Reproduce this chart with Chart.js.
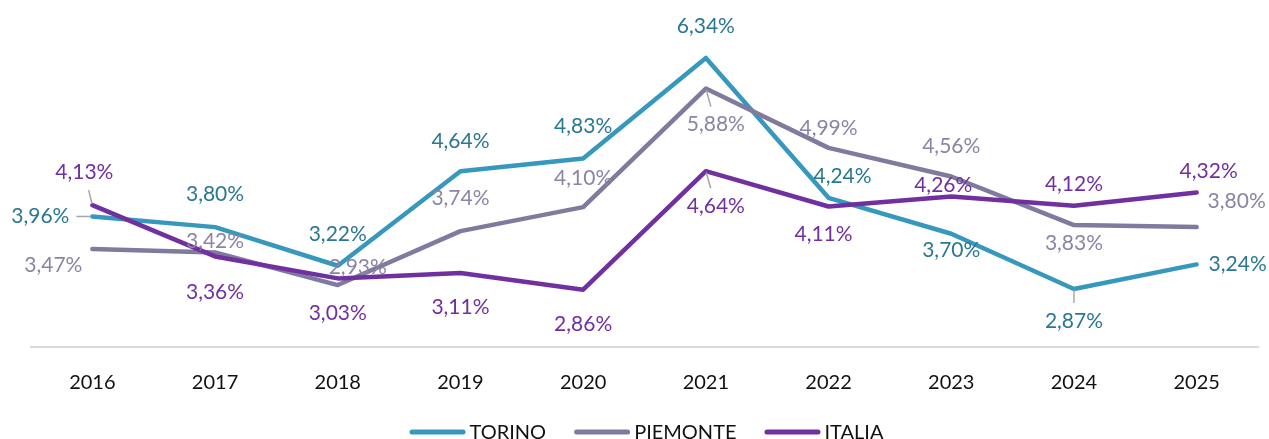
<!DOCTYPE html>
<html lang="it">
<head>
<meta charset="UTF-8">
<title>Torino Piemonte Italia</title>
<style>
  html, body { margin: 0; padding: 0; background: #fff; }
  #wrap { width: 1269px; height: 439px; }
</style>
</head>
<body>
<div id="wrap"><canvas id="chart" width="1269" height="439"></canvas></div>
<script src="https://cdn.jsdelivr.net/npm/chart.js"></script>
<script>
const years = ['2016', '2017', '2018', '2019', '2020', '2021', '2022', '2023', '2024', '2025'];
const torino = [3.96, 3.80, 3.22, 4.64, 4.83, 6.34, 4.24, 3.70, 2.87, 3.24];
const piemonte = [3.47, 3.42, 2.93, 3.74, 4.10, 5.88, 4.99, 4.56, 3.83, 3.80];
const italia = [4.13, 3.36, 3.03, 3.11, 2.86, 4.64, 4.11, 4.26, 4.12, 4.32];

// where each value label sits relative to its point: [dx, dy, leader line]
const torinoLabelPos = [[-52, 0, 1], [0, -33], [0, -32], [0, -30], [0, -32], [0, -32], [14, -22], [0, 16], [0, 32, 1], [41, 0]];
const piemonteLabelPos = [[-39, 16], [0, -11], [20, -18], [0, -33], [0, -29], [10, 36, 1], [0, -20], [0, -30], [0, 18], [40, -26]];
const italiaLabelPos = [[-8, -33, 1], [0, 36], [0, 35], [0, 34], [0, 35], [10, 35, 1], [-5, 28], [-8, -11], [0, -22], [12, -21]];

const FONT = 'Lato, "Noto Sans", sans-serif';

const valueLabels = {
  id: 'valueLabels',
  afterDatasetsDraw(chart) {
    const ctx = chart.ctx;
    ctx.save();
    ctx.font = '21px ' + FONT;
    ctx.textAlign = 'center';
    ctx.textBaseline = 'middle';
    chart.data.datasets.forEach((ds, i) => {
      const meta = chart.getDatasetMeta(i);
      meta.data.forEach((pt, j) => {
        const [dx, dy, leader] = ds.labelPos[j];
        const text = ds.data[j].toFixed(2).replace('.', ',') + '%';
        if (leader) {
          const hw = ctx.measureText(text).width / 2 + 7;
          const hh = 18;
          let t;
          if (Math.abs(dx) > hw) t = 1 - hw / Math.abs(dx);
          else t = 1 - hh / Math.abs(dy);
          ctx.strokeStyle = '#a6a6a6';
          ctx.lineWidth = 1.5;
          ctx.beginPath();
          ctx.moveTo(pt.x + dx * 0.04, pt.y + dy * 0.04);
          ctx.lineTo(pt.x + dx * t, pt.y + dy * t);
          ctx.stroke();
        }
        ctx.fillStyle = ds.labelColor;
        ctx.fillText(text, pt.x + dx, pt.y + dy);
      });
    });
    ctx.restore();
  }
};

// legend drawn by hand so the line/text spacing matches
const lineLegend = {
  id: 'lineLegend',
  afterDraw(chart) {
    const ctx = chart.ctx;
    const y = 432, lineW = 56, gap = 4, itemGap = 28;
    ctx.save();
    ctx.font = '20px ' + FONT;
    ctx.textBaseline = 'middle';
    const items = chart.data.datasets.map(ds => ({ ds, w: ctx.measureText(ds.label).width }));
    const total = items.reduce((s, it) => s + lineW + gap + it.w, 0) + itemGap * (items.length - 1);
    let x = (chart.width - total) / 2 + 12;
    items.forEach(({ ds, w }) => {
      ctx.strokeStyle = ds.borderColor;
      ctx.lineWidth = 5;
      ctx.lineCap = 'round';
      ctx.beginPath();
      ctx.moveTo(x + 2.5, y);
      ctx.lineTo(x + lineW - 2.5, y);
      ctx.stroke();
      ctx.fillStyle = '#111';
      ctx.fillText(ds.label, x + lineW + gap, y + 1);
      x += lineW + gap + w + itemGap;
    });
    ctx.restore();
  }
};

new Chart(document.getElementById('chart'), {
  type: 'line',
  data: {
    labels: years,
    datasets: [
      { label: 'TORINO', data: torino, borderColor: '#3798be', backgroundColor: '#3798be',
        labelColor: '#2a7791', labelPos: torinoLabelPos, order: 2 },
      { label: 'PIEMONTE', data: piemonte, borderColor: '#807a9e', backgroundColor: '#807a9e',
        labelColor: '#8a84a5', labelPos: piemonteLabelPos, order: 1 },
      { label: 'ITALIA', data: italia, borderColor: '#7030a0', backgroundColor: '#7030a0',
        labelColor: '#7030a0', labelPos: italiaLabelPos, order: 0 }
    ]
  },
  options: {
    responsive: false,
    animation: false,
    layout: { padding: { left: 31, right: 11, top: 14, bottom: 20 } },
    elements: {
      line: { borderWidth: 4.5, tension: 0, borderJoinStyle: 'round', borderCapStyle: 'round' },
      point: { radius: 0, hoverRadius: 0 }
    },
    scales: {
      x: {
        offset: true,
        grid: { display: false, drawTicks: false },
        border: { display: true, color: '#d9d9d9', width: 2 },
        ticks: { color: '#111', font: { family: FONT, size: 20 }, padding: 24 }
      },
      y: { display: false, min: 2, max: 7 }
    },
    plugins: {
      legend: { display: false },
      tooltip: { enabled: false }
    }
  },
  plugins: [valueLabels, lineLegend]
});
</script>
</body>
</html>
